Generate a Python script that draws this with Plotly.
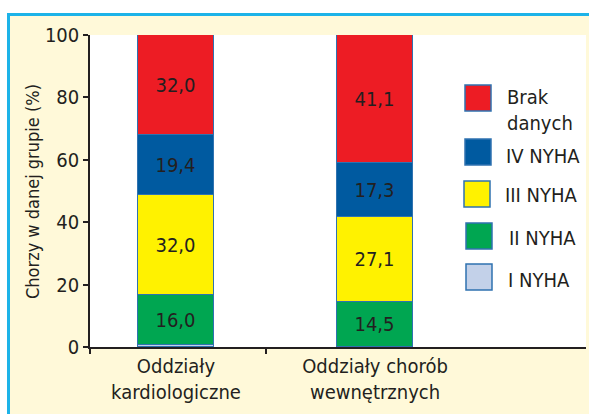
import plotly.graph_objects as go

categories = ["Oddziały<br>kardiologiczne", "Oddziały chorób<br>wewnętrznych"]
series_names = ["I NYHA", "II NYHA", "III NYHA", "IV NYHA", "Brak danych"]
values_I = [0.6, 0.0]
values_II = [16.0, 14.5]
values_III = [32.0, 27.1]
values_IV = [19.4, 17.3]
values_brak = [32.0, 41.1]
y_ticks = [0, 20, 40, 60, 80, 100]
y_title = "Chorzy w danej grupie (%)"
legend_labels = ["Brak<br>danych", "IV NYHA", "III NYHA", "II NYHA", "I NYHA"]

colors = {"I NYHA": "#C3D1E9", "II NYHA": "#00A651", "III NYHA": "#FFF200",
          "IV NYHA": "#005AA0", "Brak danych": "#ED1C24"}
outline = "#2F72B0"
txt = "#231F20"
FONT = "DejaVu Sans Condensed, Liberation Sans Narrow, sans-serif"
FS = 20

W, H = 589, 414
L, R, T, B = 90, 3, 35, 67
pw, ph = W - L - R, H - T - B

def px(x):
    return (x - L) / pw

def py(y):
    return (H - B - y) / ph

series_vals = [values_I, values_II, values_III, values_IV, values_brak]

fig = go.Figure()
for name, vals in zip(series_names, series_vals):
    fig.add_trace(go.Bar(
        x=categories, y=vals, name=name, width=0.382,
        marker=dict(color=colors[name], line=dict(color=outline, width=1)),
        text=[("%.1f" % v).replace(".", ",") if v >= 5 else "" for v in vals],
        textposition="inside", insidetextanchor="middle", textangle=0,
        textfont=dict(family=FONT, size=FS, color=txt),
        constraintext="none", showlegend=False, cliponaxis=False,
    ))

# hidden overlay axis to draw category boundary ticks
fig.add_trace(go.Scatter(x=[0], y=[0], xaxis="x2", mode="markers",
                         marker=dict(opacity=0), showlegend=False, hoverinfo="skip"))

xr = [-0.432, 2.06]
fig.update_layout(
    width=W, height=H, margin=dict(l=L, r=R, t=T, b=B),
    barmode="stack", bargap=0,
    paper_bgcolor="white", plot_bgcolor="white",
    font=dict(family=FONT, size=FS, color=txt),
    xaxis=dict(range=xr, showline=True, linecolor=txt, linewidth=1.5,
               ticks="", showgrid=False, zeroline=False,
               tickfont=dict(family=FONT, size=FS, color=txt),
               ticklabelstandoff=0),
    xaxis2=dict(range=xr, overlaying="x", anchor="y", side="bottom",
                tickmode="array", tickvals=[-0.432, 0.452], ticks="outside",
                ticklen=6, tickwidth=1.5, tickcolor=txt, showticklabels=False,
                showgrid=False, zeroline=False, showline=False),
    yaxis=dict(range=[0, 100], tickvals=y_ticks, ticks="outside", ticklen=5,
               tickwidth=1.5, tickcolor=txt, showline=True, linecolor=txt,
               linewidth=1.5, showgrid=False, zeroline=False,
               tickfont=dict(family=FONT, size=FS, color=txt)),
)

shapes = []
# frame background (yellow with cyan border)
shapes.append(dict(type="rect", xref="paper", yref="paper", layer="below",
                   x0=px(8.5), x1=px(620), y0=py(440), y1=py(14.5),
                   fillcolor="#FFF9D9", line=dict(color="#1DB3E8", width=3)))
# white plot area
shapes.append(dict(type="rect", xref="paper", yref="paper", layer="below",
                   x0=0, x1=1, y0=0, y1=1, fillcolor="white", line=dict(width=0)))

# custom legend
legend_colors = [colors["Brak danych"], colors["IV NYHA"], colors["III NYHA"],
                 colors["II NYHA"], colors["I NYHA"]]
box_y = [98, 152, 194, 236, 277]
text_y = [110, 156, 194.5, 237.5, 280]
box_x = [465, 465, 464, 466, 466]
text_x = [505, 504, 503, 507, 506]
annotations = []
for lab, col, by, ty, bx, tx in zip(legend_labels, legend_colors, box_y, text_y, box_x, text_x):
    shapes.append(dict(type="rect", xref="paper", yref="paper",
                       x0=px(bx), x1=px(bx + 26), y0=py(by + 13), y1=py(by - 13),
                       fillcolor=col, line=dict(color=outline, width=1.5)))
    annotations.append(dict(xref="paper", yref="paper", x=px(tx), y=py(ty),
                            text=lab, showarrow=False, xanchor="left", yanchor="middle",
                            align="left", font=dict(family=FONT, size=FS, color=txt)))

annotations.append(dict(xref="paper", yref="paper", x=px(32), y=py(192),
                        text=y_title, textangle=-90, showarrow=False,
                        xanchor="center", yanchor="middle",
                        font=dict(family=FONT, size=18, color=txt)))

fig.update_layout(shapes=shapes, annotations=annotations)
fig.write_html("out.html", config={"displayModeBar": False},
               post_script="document.body.style.margin='0px';document.body.style.padding='0px';")
